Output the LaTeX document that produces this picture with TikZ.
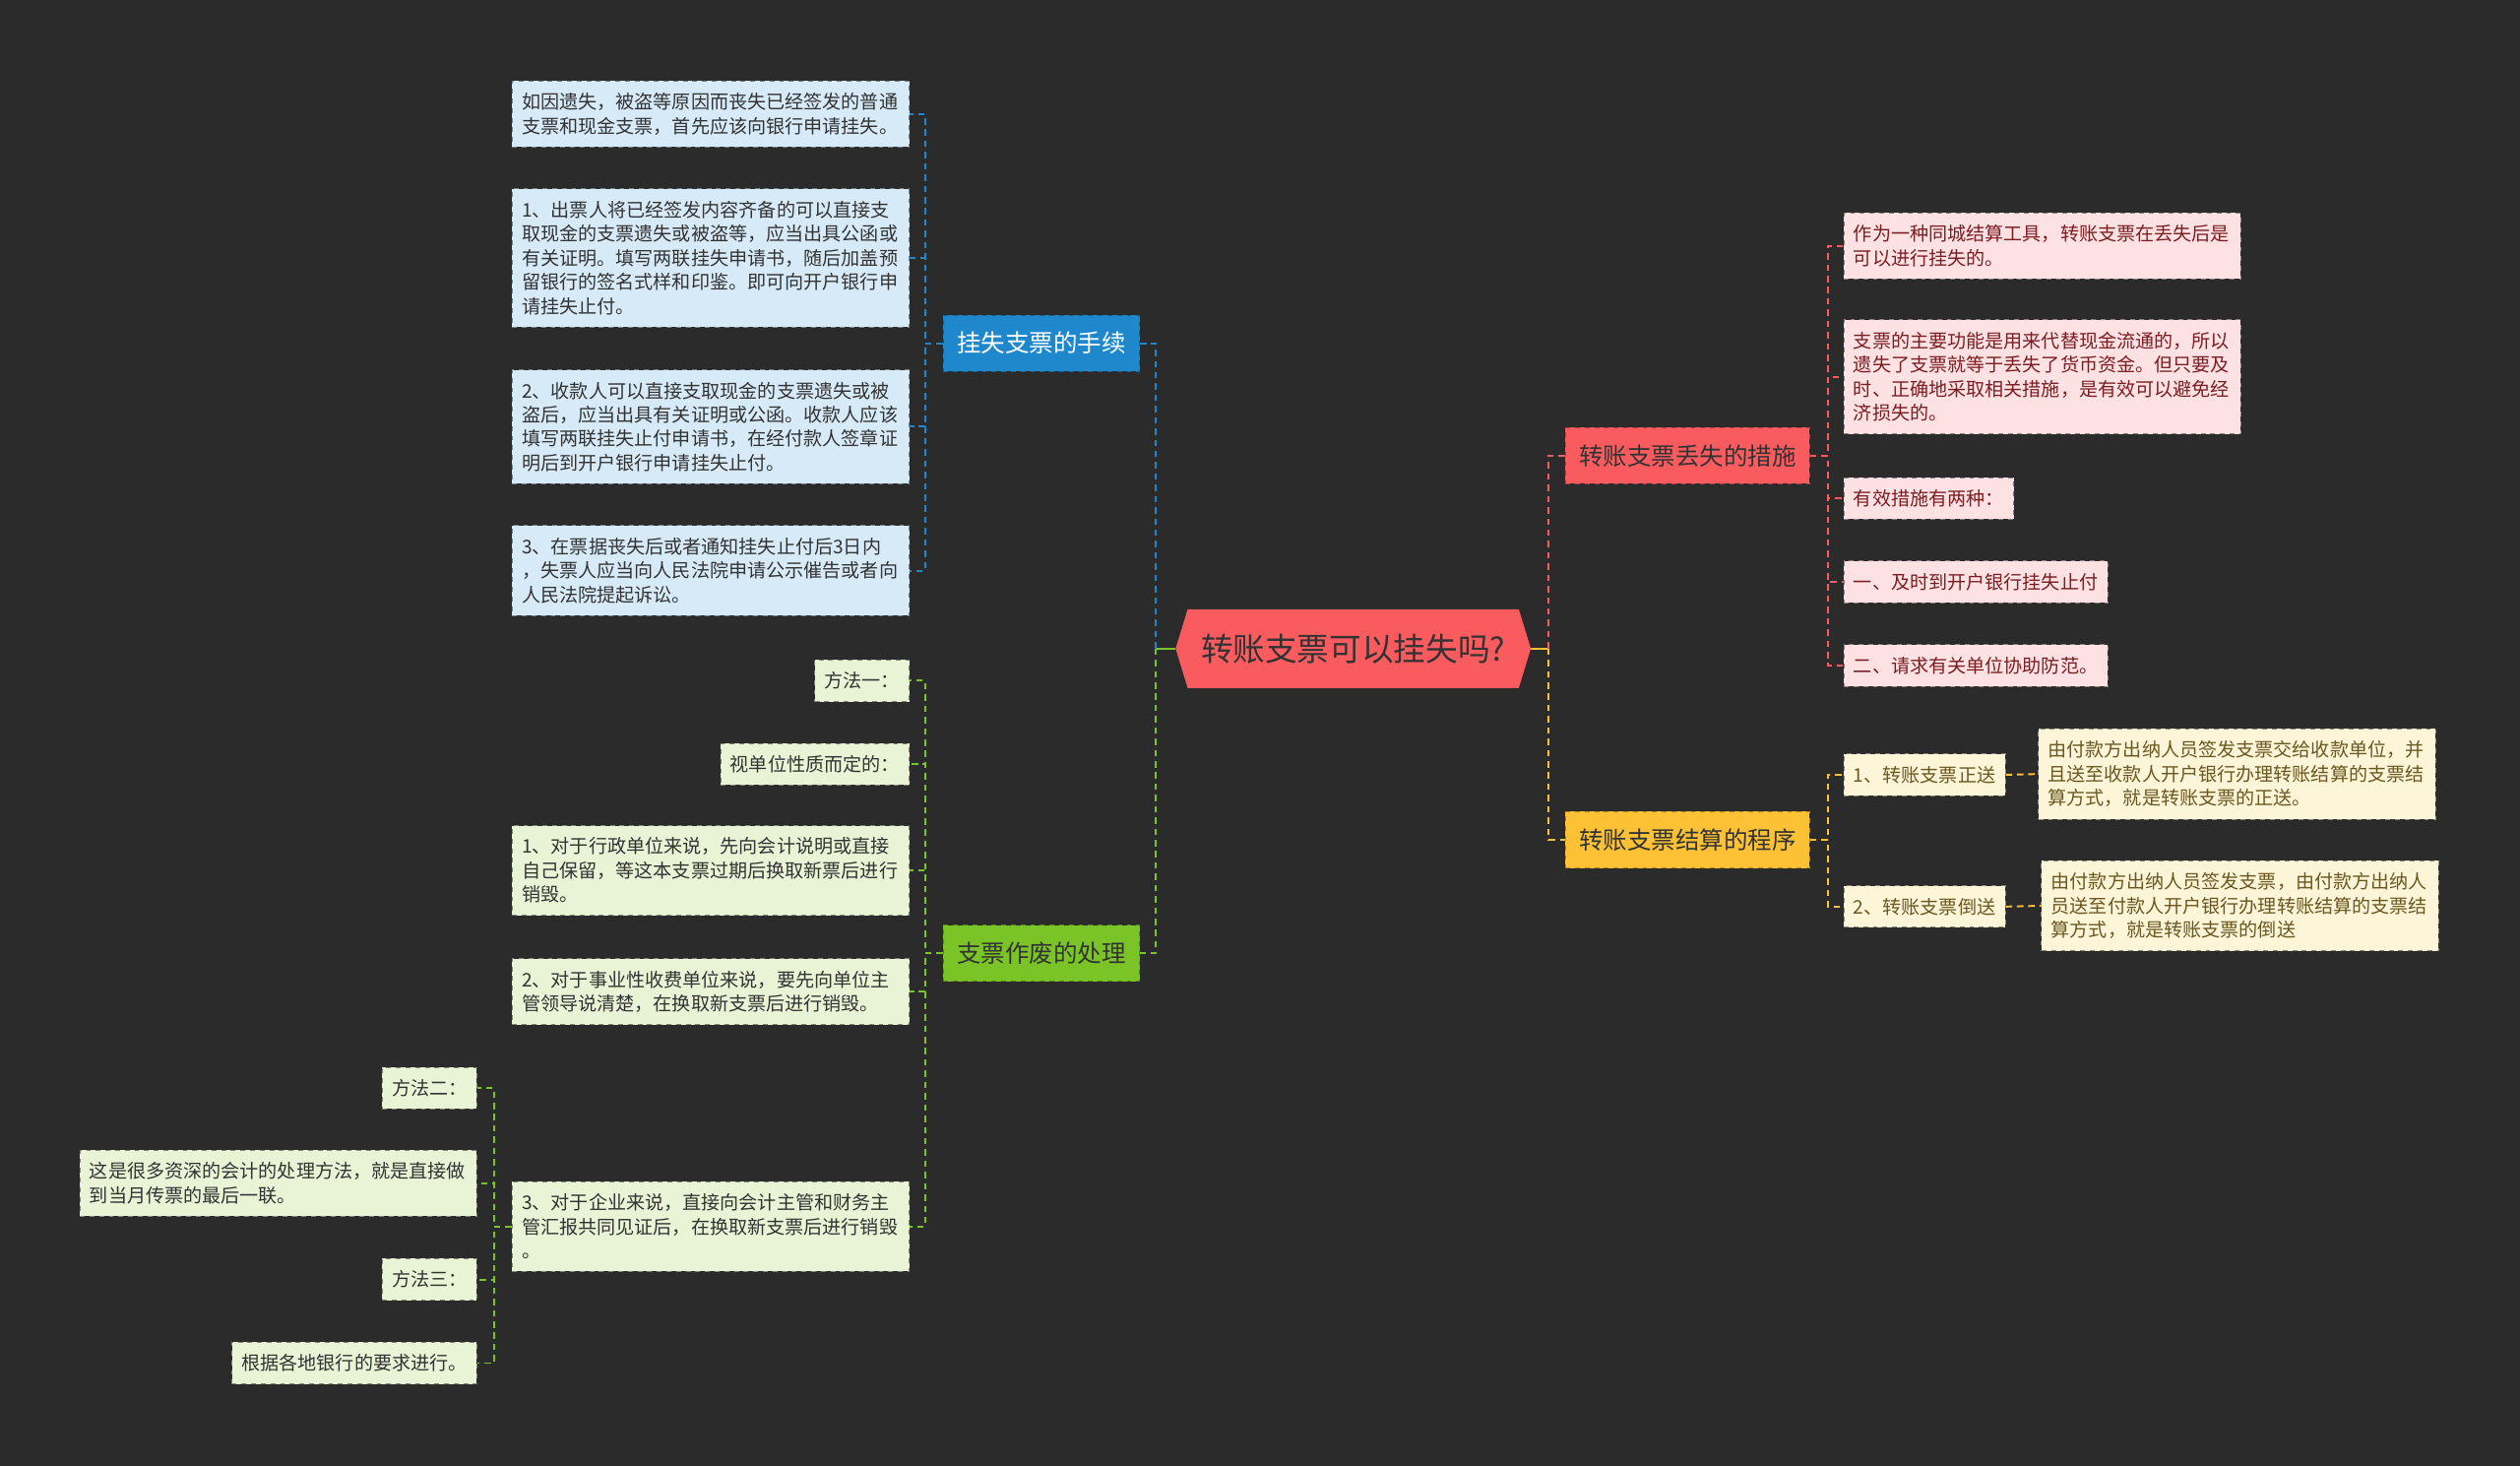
\documentclass[tikz,border=0pt]{standalone}
\usepackage{fontspec}
\setmainfont{Noto Sans CJK SC}
\usetikzlibrary{positioning,shapes.symbols}
\definecolor{bgdark}{HTML}{2B2B2B}
\definecolor{rootred}{HTML}{F95B5F}
\definecolor{topblue}{HTML}{1F88CD}
\definecolor{topgreen}{HTML}{7AC428}
\definecolor{topyellow}{HTML}{FCC135}
\definecolor{leafblue}{HTML}{D7EAF7}
\definecolor{leafgreen}{HTML}{E8F4D5}
\definecolor{leafpink}{HTML}{FDE1E3}
\definecolor{leafcream}{HTML}{FDF5D8}
\definecolor{inkdark}{HTML}{333333}
\definecolor{inkred}{HTML}{7A1E22}
\definecolor{inkolive}{HTML}{6B5720}
\def\spine{11}

\begin{document}
\begin{tikzpicture}[x=1pt,y=-1pt,
    link/.style={dash pattern=on 4pt off 3pt,line width=1.2pt},
    stub/.style={line width=1.2pt},
    para/.style={text width=235pt}]
    \tikzstyle{box}=[rectangle,dashed,line width=0.6pt,inner xsep=6pt,inner ysep=7.5pt,align=left,text=inkdark,font=\fontsize{11.7}{15}\selectfont]
    \tikzstyle{bleaf}=[box,fill=leafblue,draw=leafblue!55!black]
    \tikzstyle{gleaf}=[box,fill=leafgreen,draw=leafgreen!55!black]
    \tikzstyle{pleaf}=[box,fill=leafpink,draw=leafpink!55!black,text=inkred]
    \tikzstyle{cleaf}=[box,fill=leafcream,draw=leafcream!55!black,text=inkolive]
    \tikzstyle{topic}=[rectangle,dashed,line width=0.6pt,inner xsep=8.5pt,minimum height=35pt,text=inkdark,font=\fontsize{15}{18}\selectfont]
    \tikzstyle{root}=[signal,signal to=west and east,signal pointer angle=146,fill=rootred,minimum height=49pt,minimum width=221pt,inner sep=0pt,text=inkdark,font=\fontsize{20}{24}\selectfont]

    % background
    \fill[bgdark] (0,0) rectangle (1568,912);

    % Draw the central topic
    \node[root] (R) at (842,403.5) {转账支票可以挂失吗?};

    % Draw the main topics
    \node[topic,fill=topblue,draw=topblue!70!black,text=white] (B-1) at (648,213.5) {挂失支票的手续};
    \node[topic,fill=topgreen,draw=topgreen!70!black] (B-2) at (648,593) {支票作废的处理};
    \node[topic,fill=rootred,draw=rootred!70!black] (B-3) at (1050,283.5) {转账支票丢失的措施};
    \node[topic,fill=topyellow,draw=topyellow!70!black] (B-4) at (1050,522.5) {转账支票结算的程序};

    % Leaves of the blue topic
    \node[bleaf,para,anchor=east] (L-1) at (566,71) {如因遗失，被盗等原因而丧失已经签发的普通\\支票和现金支票，首先应该向银行申请挂失。};
    \node[bleaf,para,anchor=east] (L-2) at (566,160.5) {1、出票人将已经签发内容齐备的可以直接支\\取现金的支票遗失或被盗等，应当出具公函或\\有关证明。填写两联挂失申请书，随后加盖预\\留银行的签名式样和印鉴。即可向开户银行申\\请挂失止付。};
    \node[bleaf,para,anchor=east] (L-3) at (566,265.5) {2、收款人可以直接支取现金的支票遗失或被\\盗后，应当出具有关证明或公函。收款人应该\\填写两联挂失止付申请书，在经付款人签章证\\明后到开户银行申请挂失止付。};
    \node[bleaf,para,anchor=east] (L-4) at (566,355) {3、在票据丧失后或者通知挂失止付后3日内\\，失票人应当向人民法院申请公示催告或者向\\人民法院提起诉讼。};

    % Leaves of the green topic
    \node[gleaf,anchor=east] (G-1) at (566,423.5) {方法一：};
    \node[gleaf,anchor=east] (G-2) at (566,475.5) {视单位性质而定的：};
    \node[gleaf,para,anchor=east] (G-3) at (566,541.5) {1、对于行政单位来说，先向会计说明或直接\\自己保留，等这本支票过期后换取新票后进行\\销毁。};
    \node[gleaf,para,anchor=east] (G-4) at (566,617) {2、对于事业性收费单位来说，要先向单位主\\管领导说清楚，在换取新支票后进行销毁。};
    \node[gleaf,para,anchor=east] (G-5) at (566,763) {3、对于企业来说，直接向会计主管和财务主\\管汇报共同见证后，在换取新支票后进行销毁\\。};

    \node[gleaf,anchor=east] (M-1) at (297,677) {方法二：};
    \node[gleaf,para,anchor=east] (M-2) at (297,736) {这是很多资深的会计的处理方法，就是直接做\\到当月传票的最后一联。};
    \node[gleaf,anchor=east] (M-3) at (297,796) {方法三：};
    \node[gleaf,anchor=east] (M-4) at (297,848) {根据各地银行的要求进行。};

    % Leaves of the red topic
    \node[pleaf,para,anchor=west] (P-1) at (1147,153) {作为一种同城结算工具，转账支票在丢失后是\\可以进行挂失的。};
    \node[pleaf,para,anchor=west] (P-2) at (1147,234.5) {支票的主要功能是用来代替现金流通的，所以\\遗失了支票就等于丢失了货币资金。但只要及\\时、正确地采取相关措施，是有效可以避免经\\济损失的。};
    \node[pleaf,anchor=west] (P-3) at (1147,310) {有效措施有两种：};
    \node[pleaf,anchor=west] (P-4) at (1147,362) {一、及时到开户银行挂失止付};
    \node[pleaf,anchor=west] (P-5) at (1147,414) {二、请求有关单位协助防范。};

    % Leaves of the yellow topic
    \node[cleaf,anchor=west] (Y-1) at (1147,482) {1、转账支票正送};
    \node[cleaf,anchor=west] (Y-2) at (1147,564) {2、转账支票倒送};
    \node[cleaf,para,anchor=west] (Z-1) at (1268,481.5) {由付款方出纳人员签发支票交给收款单位，并\\且送至收款人开户银行办理转账结算的支票结\\算方式，就是转账支票的正送。};
    \node[cleaf,para,anchor=west] (Z-2) at (1270,563.5) {由付款方出纳人员签发支票，由付款方出纳人\\员送至付款人开户银行办理转账结算的支票结\\算方式，就是转账支票的倒送};

    % Connect the central topic with the main topics
    \draw[stub,topgreen] (R.west) -- ++(-12,0) coordinate (rl);
    \draw[stub,topyellow] (R.east) -- ++(11,0) coordinate (rr);
    \draw[link,topblue] (rl) |- (B-1.east);
    \draw[link,topgreen] (rl) |- (B-2.east);
    \draw[link,rootred] (rr) |- (B-3.west);
    \draw[link,topyellow] (rr) |- (B-4.west);

    % Connect every topic with its leaves
    \foreach \dest in {1,...,4}
        \draw[link,topblue] (B-1.west) -- ++(-\spine,0) |- (L-\dest.east);
    \foreach \dest in {1,...,5}
        \draw[link,topgreen] (B-2.west) -- ++(-\spine,0) |- (G-\dest.east);
    \foreach \dest in {1,...,4}
        \draw[link,topgreen] (G-5.west) -- ++(-\spine,0) |- (M-\dest.east);
    \foreach \dest in {1,...,5}
        \draw[link,rootred] (B-3.east) -- ++(\spine,0) |- (P-\dest.west);
    \foreach \dest in {1,2}
        \draw[link,topyellow] (B-4.east) -- ++(\spine,0) |- (Y-\dest.west);
    \foreach \dest in {1,2}
        \draw[link,topyellow] (Y-\dest.east) -- (Z-\dest.west);
\end{tikzpicture}
\end{document}
